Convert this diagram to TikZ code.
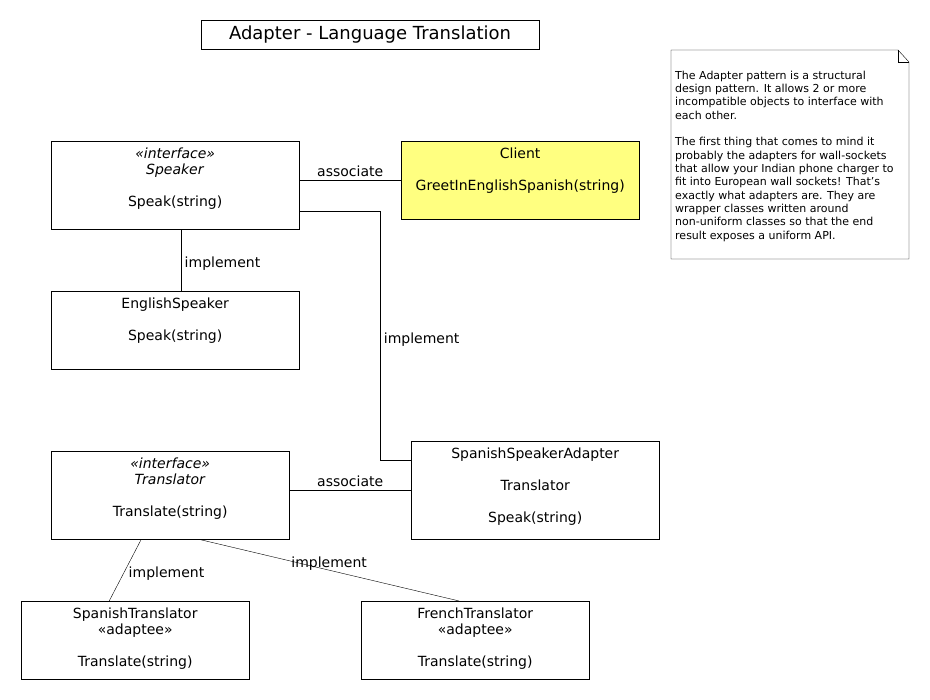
\documentclass[tikz,border=0pt]{standalone}
\usepackage{fontspec}
\setmainfont{DejaVu Sans}
\usepackage{tikz}
\definecolor{clientyellow}{RGB}{255,255,128}
\tikzset{
    x=1pt, y=-1pt, % one unit is one pixel of the sheet, y runs downwards
    line width=1pt, % thin black lines everywhere
    umlbox/.style={draw, rectangle, anchor=north west, inner sep=0pt}, % the class boxes
    boxtext/.style={anchor=north, inner sep=0pt, align=center, yshift=-7pt, font=\fontsize{14}{16}\selectfont}, % the lines inside a class box
    edgelabel/.style={font=\fontsize{14}{16}\selectfont}, % text next to a connector
    implabel/.style={edgelabel, yshift=-3.5pt}, % the implement labels sit a little lower
}

\begin{document}
\begin{tikzpicture}
            \useasboundingbox (0,0) rectangle (930,700);

            % title
            \node[draw, minimum width=338pt, minimum height=29pt, inner sep=0pt, font=\fontsize{18}{20}\selectfont] (title) at (370,34.5) {Adapter - Language Translation};

            % note with the folded corner
            \node[anchor=north west, inner sep=0pt, align=left, font=\fontsize{11}{13.33}\selectfont] (notetext) at (675,70.5) {The Adapter pattern is a structural\\design pattern. It allows 2 or more\\incompatible objects to interface with\\each other.\\[13.33pt]The first thing that comes to mind it\\probably the adapters for wall-sockets\\that allow your Indian phone charger to\\fit into European wall sockets! That's\\exactly what adapters are. They are\\wrapper classes written around\\non-uniform classes so that the end\\result exposes a uniform API.};
            \draw (671,50) -- (898,50) -- (909,62) -- (909,259) -- (671,259) -- cycle;
            \draw (898,50) -- (898,62) -- (909,62);

            % classes
            \node[umlbox, minimum width=248pt, minimum height=88pt] (speaker) at (51,141) {};
            \node[boxtext] at (speaker.north) {\textit{«interface»}\\\textit{Speaker}\\[16pt]Speak(string)};

            \node[umlbox, fill=clientyellow, minimum width=238pt, minimum height=78pt] (client) at (401,141) {};
            \node[boxtext] at (client.north) {Client\\[16pt]GreetInEnglishSpanish(string)};

            \node[umlbox, minimum width=248pt, minimum height=78pt] (english) at (51,291) {};
            \node[boxtext] at (english.north) {EnglishSpeaker\\[16pt]Speak(string)};

            \node[umlbox, minimum width=238pt, minimum height=88pt] (translator) at (51,451) {};
            \node[boxtext] at (translator.north) {\textit{«interface»}\\\textit{Translator}\\[16pt]Translate(string)};

            \node[umlbox, minimum width=248pt, minimum height=98pt] (adapter) at (411,441) {};
            \node[boxtext] at (adapter.north) {SpanishSpeakerAdapter\\[16pt]Translator\\[16pt]Speak(string)};

            \node[umlbox, minimum width=228pt, minimum height=78pt] (spanish) at (21,601) {};
            \node[boxtext] at (spanish.north) {SpanishTranslator\\«adaptee»\\[16pt]Translate(string)};

            \node[umlbox, minimum width=228pt, minimum height=78pt] (french) at (361,601) {};
            \node[boxtext] at (french.north) {FrenchTranslator\\«adaptee»\\[16pt]Translate(string)};

            % connectors
            \draw (speaker.east |- client.west) -- node[edgelabel, above] {associate} (client.west);
            \draw ([xshift=6pt]speaker.south) -- node[implabel, right] {implement} ([xshift=6pt]english.north);
            \draw ([yshift=-26pt]speaker.east) -- ++(81,0) |- node[implabel, pos=0.25, right] {implement} ([yshift=30pt]adapter.west);
            \draw (translator.east |- adapter.west) -- node[edgelabel, above] {associate} (adapter.west);
            \draw ([xshift=-29pt]translator.south) -- node[implabel, right] {implement} ([xshift=-26pt]spanish.north);
            \draw ([xshift=29pt]translator.south) -- node[implabel, above] {implement} ([xshift=-16pt]french.north);
        \end{tikzpicture}
\end{document}
